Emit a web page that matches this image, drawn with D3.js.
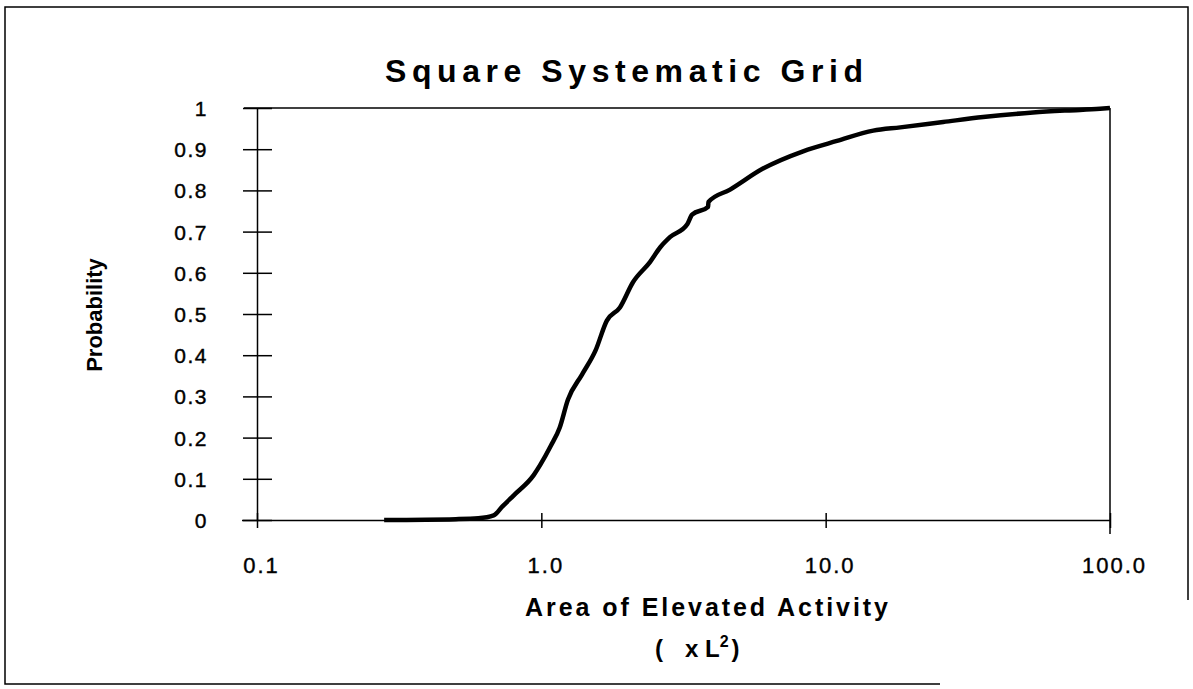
<!DOCTYPE html>
<html>
<head>
<meta charset="utf-8">
<script src="https://cdn.jsdelivr.net/npm/d3@7"></script>
<style>
  body { margin: 0; background: #fff; }
  text { font-family: "Liberation Sans", Arial, sans-serif; fill: #000; }
</style>
</head>
<body>
<svg id="viz" width="1193" height="689"></svg>
<script>
// cumulative probability vs area (x L^2)
var areaValues = [0.28, 0.5, 0.6, 0.68, 0.73, 0.8, 0.94, 0.99, 1.08, 1.16, 1.24, 1.39, 1.55, 1.70, 1.89,
  2.10, 2.41, 2.62, 2.84, 3.26, 3.39, 3.86, 3.87, 4.61, 6.02, 8.33, 10.96, 14.7, 18.3, 25.9, 35.8, 53.6, 70.6, 92.3, 100];
var probValues = [0, 0.002, 0.004, 0.011, 0.033, 0.06, 0.109, 0.133, 0.18, 0.224, 0.292, 0.353, 0.411, 0.484, 0.516,
  0.577, 0.626, 0.662, 0.687, 0.718, 0.741, 0.760, 0.772, 0.802, 0.853, 0.895, 0.920, 0.945, 0.953, 0.966, 0.978, 0.989, 0.994, 0.998, 1.0];
var xTicks = [0.1, 1, 10, 100];
var yTicks = [0, 0.1, 0.2, 0.3, 0.4, 0.5, 0.6, 0.7, 0.8, 0.9, 1];

var svg = d3.select("#viz");

var x = d3.scaleLog().domain([0.1, 100]).range([257, 1110]);
var y = d3.scaleLinear().domain([0, 1]).range([520, 108]);

// outer frame of the printout (faded at bottom right)
svg.append("path")
  .attr("d", "M940,684 L5,684 L5,7 L1188,7 L1188,600")
  .attr("fill", "none")
  .attr("stroke", "#000")
  .attr("stroke-width", 1.5);

// title
svg.append("text")
  .attr("x", 385).attr("y", 82)
  .attr("textLength", 478).attr("lengthAdjust", "spacing")
  .style("font-size", "32px").style("font-weight", "bold")
  .text("Square Systematic Grid");

// plot box top and right
svg.append("line")
  .attr("x1", 244).attr("x2", x(100))
  .attr("y1", y(1)).attr("y2", y(1))
  .attr("stroke", "#000").attr("stroke-width", 1.5);
svg.append("line")
  .attr("x1", x(100)).attr("x2", x(100))
  .attr("y1", y(1)).attr("y2", y(0) + 14)
  .attr("stroke", "#000").attr("stroke-width", 1.5);

// x axis
var xAxis = svg.append("g")
  .attr("transform", "translate(0," + y(0) + ")")
  .call(d3.axisBottom(x).tickValues(xTicks).tickFormat(d3.format(".1f")).tickSizeOuter(0));
xAxis.select(".domain").attr("d", "M242,0.5H" + x(100)).attr("stroke-width", 1.5);
xAxis.selectAll(".tick line").attr("y1", -7).attr("y2", 8).attr("stroke-width", 1.5);
xAxis.selectAll(".tick text")
  .attr("y", 0).attr("dy", null)
  .attr("transform", "translate(4,53)")
  .style("font-size", "22px").style("letter-spacing", "2px")
  .style("stroke", "#000").style("stroke-width", 0.4);

// y axis
var yAxis = svg.append("g")
  .attr("transform", "translate(" + x(0.1) + ",0)")
  .call(d3.axisLeft(y).tickValues(yTicks).tickFormat(function(d) {
    return (d === 0 || d === 1) ? String(d) : d.toFixed(1);
  }).tickSizeOuter(0));
yAxis.select(".domain").attr("d", "M0.5," + y(1) + "V" + y(0)).attr("stroke-width", 1.5);
yAxis.selectAll(".tick line").attr("x1", -14).attr("x2", 15).attr("stroke-width", 1.5);
yAxis.selectAll(".tick text")
  .attr("x", -49).attr("dy", "0.36em")
  .style("font-size", "21px").style("letter-spacing", "1.5px")
  .style("stroke", "#000").style("stroke-width", 0.4);

// axis titles
svg.append("text")
  .attr("transform", "translate(102,315) rotate(-90)")
  .attr("text-anchor", "middle")
  .style("font-size", "22px").style("font-weight", "bold")
  .text("Probability");

svg.append("text")
  .attr("x", 525).attr("y", 616)
  .attr("textLength", 363).attr("lengthAdjust", "spacing")
  .style("font-size", "25px").style("font-weight", "bold")
  .text("Area of Elevated Activity");

var unit = svg.append("text")
  .attr("x", 655).attr("y", 657)
  .style("font-size", "24px").style("font-weight", "bold");
unit.append("tspan").text("(");
unit.append("tspan").attr("dx", 22).text("x L");
unit.append("tspan").attr("dy", -10).style("font-size", "16px").text("2");
unit.append("tspan").attr("dy", 10).attr("dx", 3).text(")");

// curve
var pts = areaValues.map(function(a, i) { return [a, probValues[i]]; });
var line = d3.line()
  .x(function(d) { return x(d[0]); })
  .y(function(d) { return y(d[1]); })
  .curve(d3.curveMonotoneX);

svg.append("path")
  .datum(pts)
  .attr("d", line)
  .attr("fill", "none")
  .attr("stroke", "#000")
  .attr("stroke-width", 4.5)
  .attr("stroke-linejoin", "round");
</script>
</body>
</html>
